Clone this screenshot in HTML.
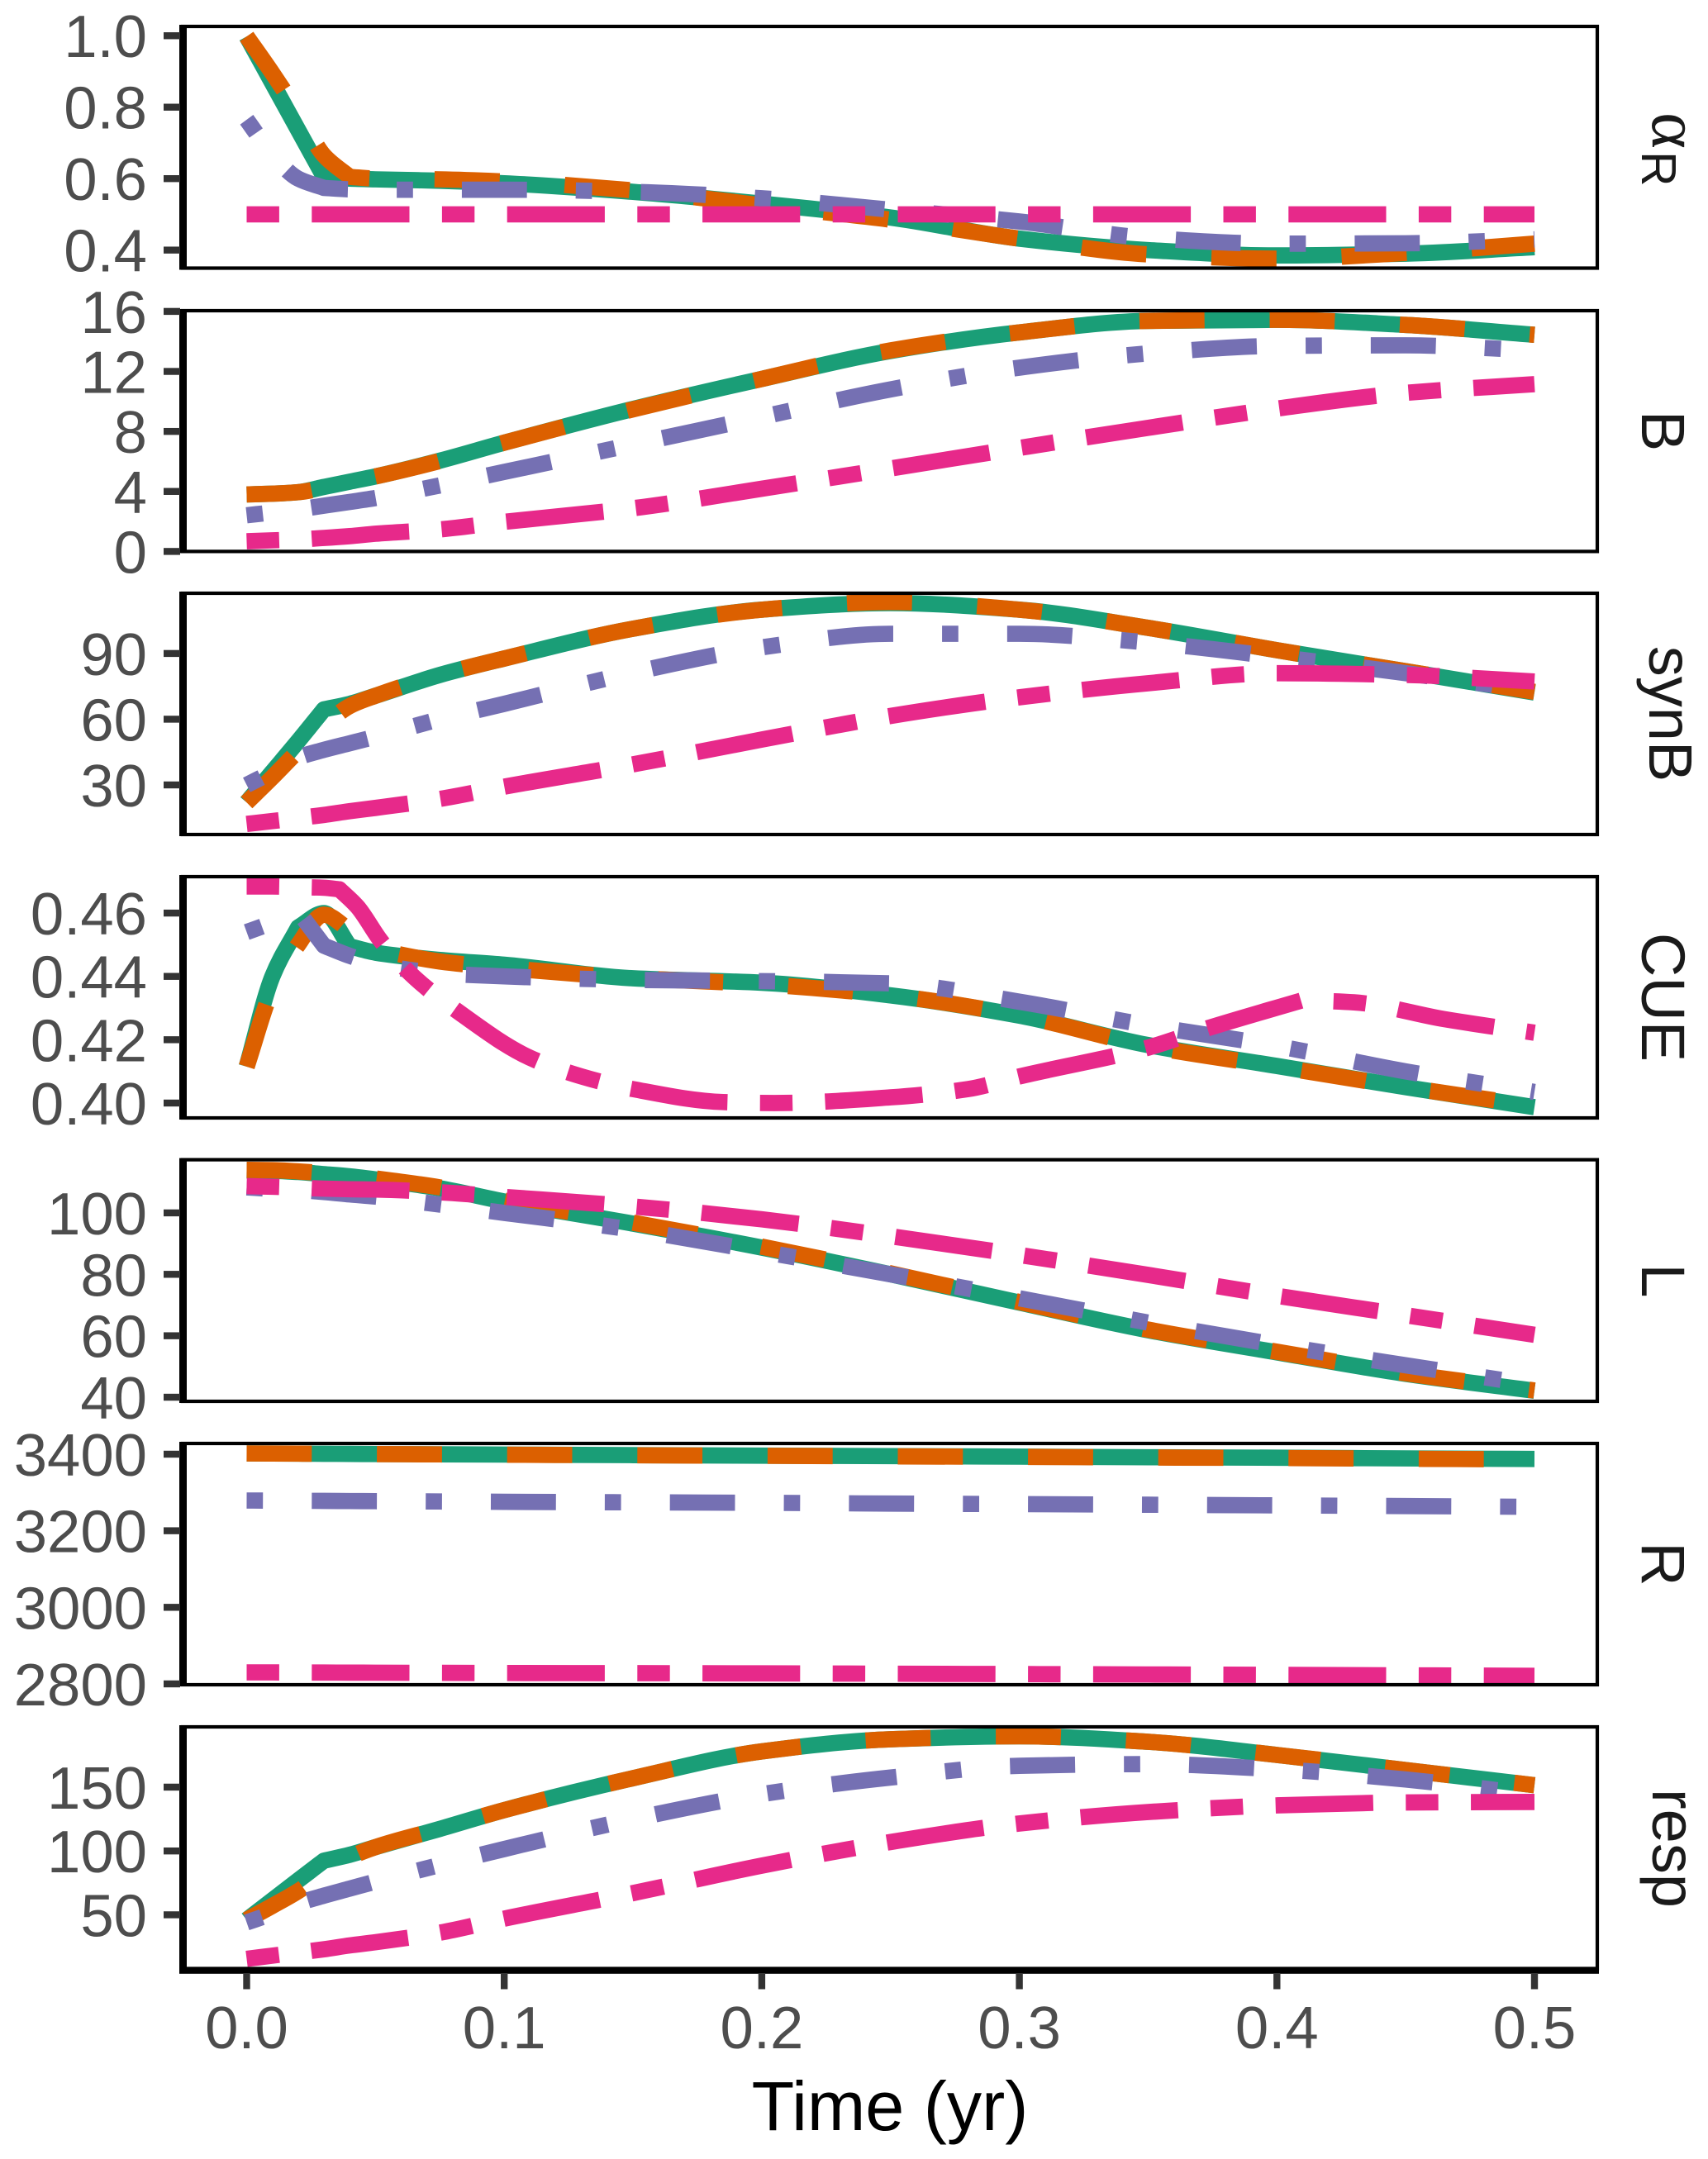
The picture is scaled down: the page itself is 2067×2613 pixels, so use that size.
<!DOCTYPE html>
<html lang="en">
<head>
<meta charset="utf-8">
<title>Time series panels</title>
<style>
html,body{margin:0;padding:0;background:#fff;}
svg{display:block;font-family:"Liberation Sans",sans-serif;}
</style>
</head>
<body>
<svg id="chart" xmlns="http://www.w3.org/2000/svg" width="2067" height="2613" viewBox="0 0 2067 2613">
  <rect x="0" y="0" width="2067" height="2613" fill="#ffffff"/>
  <g id="panels"></g>
  <g fill="#1a1a1a" font-size="74">
    <text transform="translate(2000,136) rotate(90)" font-family="'Liberation Serif',serif" font-size="84">α</text>
    <text transform="translate(1987,183) rotate(90)" font-size="59">R</text>
    <text transform="translate(1987,521.5) rotate(90)" text-anchor="middle">B</text>
    <text transform="translate(1996,864) rotate(90)" text-anchor="middle">synB</text>
    <text transform="translate(1987,1207) rotate(90)" text-anchor="middle">CUE</text>
    <text transform="translate(1987,1550) rotate(90)" text-anchor="middle">L</text>
    <text transform="translate(1987,1893) rotate(90)" text-anchor="middle">R</text>
    <text transform="translate(2000,2237) rotate(90)" text-anchor="middle">resp</text>
  </g>
  <text x="1077" y="2578" text-anchor="middle" font-size="84.5" fill="#000000">Time (yr)</text>
</svg>
<script>
const time = [0, .01, .02, .03, .04, .05, .075, .1, .15, .2, .25, .3, .35, .4, .45, .5];
const cuePinkTime = [0, .01, .02, .03, .036, .043, .0524, .0655, .081, .11, .13, .15, .185, .205, .25, .28, .3, .35, .373, .41, .43, .465, .5];

const xTicks = [0, .1, .2, .3, .4, .5];
const xTickLabels = ['0.0', '0.1', '0.2', '0.3', '0.4', '0.5'];

const alphaTicks = [1, .8, .6, .4];
const alphaTickLabels = ['1.0', '0.8', '0.6', '0.4'];
const alphaGreen = [.998, .867, .736, .605, .60, .598, .594, .587, .563, .53, .491, .432, .40, .385, .39, .408];
const alphaOrange = [.998, .895, .785, .665, .605, .60, .598, .592, .567, .525, .485, .432, .388, .376, .392, .418];
const alphaPurple = [.765, .667, .60, .574, .57, .569, .569, .569, .563, .545, .513, .48, .434, .418, .419, .43];
const alphaPink = [.5, .5, .5, .5, .5, .5, .5, .5, .5, .5, .5, .5, .5, .5, .5, .5];

const bTicks = [16, 12, 8, 4, 0];
const bTickLabels = ['16', '12', '8', '4', '0'];
const bGreen = [3.8, 3.85, 3.95, 4.3, 4.65, 5.0, 6.05, 7.25, 9.5, 11.5, 13.36, 14.6, 15.37, 15.44, 15.1, 14.44];
const bOrange = [3.8, 3.85, 3.95, 4.25, 4.65, 5.0, 6.03, 7.25, 9.47, 11.5, 13.4, 14.6, 15.37, 15.44, 15.1, 14.44];
const bPurple = [2.41, 2.6, 2.8, 3.05, 3.3, 3.56, 4.4, 5.3, 7.13, 8.97, 10.8, 12.25, 13.2, 13.7, 13.74, 13.4];
const bPink = [.68, .74, .8, .9, 1.02, 1.18, 1.47, 1.97, 2.88, 4.18, 5.53, 6.9, 8.24, 9.52, 10.57, 11.15];

const synBTicks = [90, 60, 30];
const synBTickLabels = ['90', '60', '30'];
const synBGreen = [22, 36, 50, 64.5, 67, 70.7, 80.2, 87.7, 101.3, 110, 113, 110, 101.7, 91.5, 81.9, 72.2];
const synBOrange = [22, 33.5, 45.5, 57, 66, 70.7, 80.2, 87.7, 101.3, 110, 113.5, 110, 101.7, 91.5, 81.9, 72.5];
const synBPurple = [30, 36, 42.5, 46, 49, 52, 60, 67, 81.3, 92.8, 99, 99, 95, 88.5, 81, 73];
const synBPink = [12.2, 13.5, 14.9, 16.3, 18, 19.5, 23.6, 29.2, 39.4, 50.7, 61.5, 70, 76.4, 81, 80.2, 77.2];

const cueTicks = [.46, .44, .42, .40];
const cueTickLabels = ['0.46', '0.44', '0.42', '0.40'];
const cueGreen = [.4115, .44, .4555, .46, .4495, .4475, .4452, .4437, .4394, .438, .434, .4276, .4183, .4117, .405, .3987];
const cueOrange = [.4115, .436, .45, .4595, .4545, .4485, .4447, .4427, .4395, .4375, .434, .4276, .418, .4115, .405, .399];
const cuePurple = [.454, .457, .4605, .4497, .4465, .444, .441, .44, .4389, .4385, .4378, .432, .4245, .418, .41, .4035];
const cuePink = [.4684, .4684, .4682, .468, .4675, .462, .4509, .4394, .4295, .4143, .4084, .4044, .4003, .40, .4018, .4044, .4084, .4175, .4236, .4325, .4318, .4265, .4222];

const lTicks = [100, 80, 60, 40];
const lTickLabels = ['100', '80', '60', '40'];
const lGreen = [113.8, 113.7, 113.3, 112.6, 111.9, 110.9, 108, 103.7, 96.5, 88.7, 80, 70.8, 61.8, 54.6, 47.6, 42.1];
const lOrange = [114, 113.9, 113.5, 112.9, 112.2, 111.2, 108.3, 104, 96.8, 89, 80.3, 71, 62, 54.8, 47.8, 42.2];
const lPurple = [108.3, 107.8, 107.4, 106.8, 106, 105.3, 102.7, 100, 94.5, 87.4, 80, 72.2, 64.3, 57, 50.4, 44];
const lPink = [108.7, 108.5, 108.2, 107.9, 107.7, 107.6, 106.7, 105.2, 102.1, 97.9, 92.4, 86.3, 79.8, 73, 66.7, 60.3];

const rTicks = [3400, 3200, 3000, 2800];
const rTickLabels = ['3400', '3200', '3000', '2800'];
const rGreen = [3402, 3401.7, 3401.4, 3401, 3400.7, 3400.4, 3399.7, 3399, 3397.6, 3396.2, 3395, 3393.6, 3392, 3390.8, 3389, 3387.5];
const rOrange = [3402, 3401.7, 3401.4, 3401, 3400.6, 3400.3, 3399.5, 3398.7, 3397.2, 3395.8, 3394.4, 3393, 3391.4, 3390, 3388, 3386.5];
const rPurple = [3279, 3278.7, 3278.3, 3278, 3277.6, 3277.3, 3276.5, 3275.6, 3274.3, 3273, 3271, 3269.6, 3268, 3266.3, 3264.5, 3262.5];
const rPink = [2830, 2830, 2829.8, 2829.6, 2829.4, 2829.2, 2828.8, 2828.4, 2828, 2827.4, 2826.6, 2825.6, 2824.6, 2823.5, 2822.3, 2821];

const respTicks = [150, 100, 50];
const respTickLabels = ['150', '100', '50'];
const respGreen = [46, 61.5, 77, 92.4, 97, 103, 117.3, 132, 157, 178, 187.5, 189.8, 185.5, 175.2, 163.4, 151.5];
const respOrange = [46, 57, 68.5, 83, 95, 103, 117.3, 132, 157, 178, 187.5, 189.8, 185.5, 175.2, 163.4, 151.5];
const respPurple = [44, 51, 59, 65, 70.5, 76, 89, 101.5, 125, 144.5, 157.5, 166.7, 168, 164, 156, 144];
const respPink = [15.5, 18, 20.5, 23, 26, 28.5, 36, 47, 67, 88.5, 107, 121.5, 130.5, 135.7, 138, 138.4];

const seriesNames = ['green-solid', 'orange-dashed', 'purple-dotdash', 'pink-twodash'];
const seriesColors = ['#1a9e77', '#dc6000', '#7570b3', '#e7298a'];
const dashUnits = [[], [4, 4], [1, 3, 4, 3], [2, 2, 6, 2]];

const plotLeft = 221;
const plotRight = 1933;
const lineWidth = 19.7;
const xAxisX0 = 298.5;
const xAxisPerUnit = 3117;

const panels = [
  { key: 'alpha-r', top: 32, bottom: 324.5, domain: [.3495, 1.026], ticks: alphaTicks, labels: alphaTickLabels, values: [alphaGreen, alphaOrange, alphaPurple, alphaPink], times: [time, time, time, time] },
  { key: 'b', top: 376, bottom: 667.4, domain: [0, 16.05], ticks: bTicks, labels: bTickLabels, values: [bGreen, bOrange, bPurple, bPink], times: [time, time, time, time] },
  { key: 'synb', top: 718, bottom: 1010, domain: [7.36, 117.5], ticks: synBTicks, labels: synBTickLabels, values: [synBGreen, synBOrange, synBPurple, synBPink], times: [time, time, time, time] },
  { key: 'cue', top: 1061, bottom: 1353, domain: [.3953, .4715], ticks: cueTicks, labels: cueTickLabels, values: [cueGreen, cueOrange, cuePurple, cuePink], times: [time, time, time, cuePinkTime] },
  { key: 'l', top: 1403.6, bottom: 1696, domain: [38.66, 117.3], ticks: lTicks, labels: lTickLabels, values: [lGreen, lOrange, lPurple, lPink], times: [time, time, time, time] },
  { key: 'r', top: 1747, bottom: 2039, domain: [2797.8, 3428], ticks: rTicks, labels: rTickLabels, values: [rGreen, rOrange, rPurple, rPink], times: [time, time, time, time] },
  { key: 'resp', top: 2090, bottom: 2382.5, domain: [7.9, 197.2], ticks: respTicks, labels: respTickLabels, values: [respGreen, respOrange, respPurple, respPink], times: [time, time, time, time] }
];

const NS = 'http://www.w3.org/2000/svg';
const root = document.getElementById('panels');

function make(tag, attrs, parent) {
  const el = document.createElementNS(NS, tag);
  for (const k in attrs) el.setAttribute(k, attrs[k]);
  parent.appendChild(el);
  return el;
}
function xScale(t) {
  return xAxisX0 + xAxisPerUnit * t;
}
function yScale(panel, v) {
  const f = (v - panel.domain[0]) / (panel.domain[1] - panel.domain[0]);
  return panel.bottom + (panel.top - panel.bottom) * f;
}
function curvePath(px, py) {
  const n = px.length;
  const h = [], d = [], mOut = [], mIn = [];
  for (let i = 0; i < n - 1; i++) {
    h.push(px[i + 1] - px[i]);
    d.push((py[i + 1] - py[i]) / h[i]);
  }
  mOut[0] = d[0];
  mIn[0] = d[0];
  for (let i = 1; i < n - 1; i++) {
    const a = Math.abs(d[i - 1]), b = Math.abs(d[i]);
    const big = Math.max(a, b), small = Math.min(a, b);
    if (big > .25 && big > 3 * small) {
      mIn[i] = d[i - 1];
      mOut[i] = d[i];
    } else if (d[i - 1] * d[i] <= 0) {
      mIn[i] = 0;
      mOut[i] = 0;
    } else {
      const w1 = 2 * h[i] + h[i - 1], w2 = h[i] + 2 * h[i - 1];
      const m = (w1 + w2) / (w1 / d[i - 1] + w2 / d[i]);
      mIn[i] = m;
      mOut[i] = m;
    }
  }
  mIn[n - 1] = d[n - 2];
  let s = 'M' + px[0].toFixed(2) + ' ' + py[0].toFixed(2);
  for (let i = 0; i < n - 1; i++) {
    const c = h[i] / 3;
    s += 'C' + (px[i] + c).toFixed(2) + ' ' + (py[i] + mOut[i] * c).toFixed(2) + ' ' +
         (px[i + 1] - c).toFixed(2) + ' ' + (py[i + 1] - mIn[i + 1] * c).toFixed(2) + ' ' +
         px[i + 1].toFixed(2) + ' ' + py[i + 1].toFixed(2);
  }
  return s;
}

panels.forEach(function (panel, pi) {
  const g = make('g', {}, root);
  
  

  const clipId = 'clip-' + panel.key;
  const defs = make('defs', {}, g);
  const clip = make('clipPath', { id: clipId }, defs);
  make('rect', { x: plotLeft, y: panel.top, width: plotRight - plotLeft, height: panel.bottom - panel.top }, clip);

  const lines = make('g', { 'clip-path': 'url(#' + clipId + ')' }, g);
  
  
  panel.values.forEach(function (vals, si) {
    const ts = panel.times[si];
    const px = ts.map(xScale);
    const py = vals.map(function (v) { return yScale(panel, v); });
    const path = make('path', {
      d: curvePath(px, py),
      fill: 'none',
      stroke: seriesColors[si],
      'stroke-width': lineWidth,
      'stroke-linecap': 'butt',
      'stroke-linejoin': 'round'
    }, lines);
    if (dashUnits[si].length) {
      path.setAttribute('stroke-dasharray', dashUnits[si].map(function (u) { return (u * lineWidth).toFixed(2); }).join(' '));
    }
    
    
  });

  const border = make('rect', {
    x: plotLeft, y: panel.top, width: plotRight - plotLeft, height: panel.bottom - panel.top,
    fill: 'none', stroke: '#000000', 'stroke-width': 4.2
  }, g);
  
  

  const axisLine = make('rect', {
    x: 217, y: panel.top - 2, width: 9, height: panel.bottom - panel.top + 4, fill: '#000000'
  }, g);
  
  

  panel.ticks.forEach(function (v, ti) {
    const y = yScale(panel, v);
    const tick = make('rect', { x: 198, y: y - 4.2, width: 20, height: 8.4, fill: '#333333' }, g);
    
    
    const label = make('text', {
      x: 178, y: y + 26, 'text-anchor': 'end', 'font-size': 72.5, fill: '#4d4d4d'
    }, g);
    label.textContent = panel.labels[ti];
    
    
  });
});

const xAxis = make('g', {}, root);


const xAxisLine = make('rect', { x: 217, y: 2380.6, width: plotRight - 217 + 2, height: 8.2, fill: '#000000' }, xAxis);


xTicks.forEach(function (t, i) {
  const x = xScale(t);
  const tick = make('rect', { x: x - 4.2, y: 2388, width: 8.4, height: 19.5, fill: '#333333' }, xAxis);
  
  
  const label = make('text', { x: x, y: 2479, 'text-anchor': 'middle', 'font-size': 72.5, fill: '#4d4d4d' }, xAxis);
  label.textContent = xTickLabels[i];
  
  
});
</script>
</body>
</html>
